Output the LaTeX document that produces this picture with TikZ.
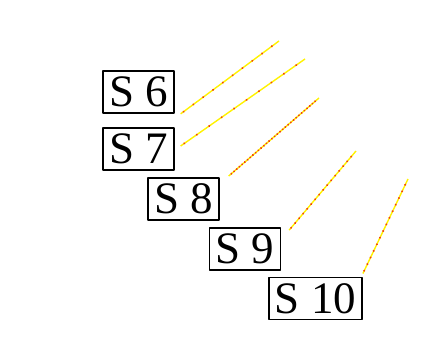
\documentclass[tikz,border=0pt]{standalone}
\usepackage{fontspec}
\setmainfont{Liberation Serif}
\usetikzlibrary{decorations.markings}
\definecolor{dotred}{RGB}{240,60,20}
\tikzset{
  sbox/.style={draw,line width=1.5pt,inner sep=6pt,font=\fontsize{45}{45}\selectfont},
  wire/.style={draw=yellow,line width=1.4pt,postaction={decorate},
    decoration={markings,mark=between positions 0.03 and 0.97 step #1 with {\fill[dotred] (0,0) circle (1.1pt);}}},
  wire/.default=0.1
}
\begin{document}
\begin{tikzpicture}[x=1pt,y=-1pt,line join=round]
            \useasboundingbox (0,0) rectangle (424,350);
            % boxes
            \node[sbox] (s6) at (138.5,92) {S 6};
            \node[sbox] (s7) at (138.5,149) {S 7};
            \node[sbox] (s8) at (183.5,199) {S 8};
            \node[sbox] (s9) at (245,249) {S 9};
            \node[sbox] (s10) at (315.5,298.5) {S 10};
            % far ends of the rays
            \coordinate (e6) at (279,41);
            \coordinate (e7) at (305,59);
            \coordinate (e8) at (319,98);
            \coordinate (e9) at (356,151);
            \coordinate (e10) at (408,179);
            \draw[wire] ([xshift=6pt]s6.south east) -- (e6);
            \draw[wire] ([xshift=6pt,yshift=3pt]s7.east) -- (e7);
            \draw[wire=0.03] ([xshift=9pt,yshift=1pt]s8.north east) -- (e8);
            \draw[wire=0.06] ([xshift=8pt,yshift=-3pt]s9.north east) -- (e9);
            \draw[wire=0.07] ([yshift=3pt]s10.north east) -- (e10);
        \end{tikzpicture}
\end{document}
